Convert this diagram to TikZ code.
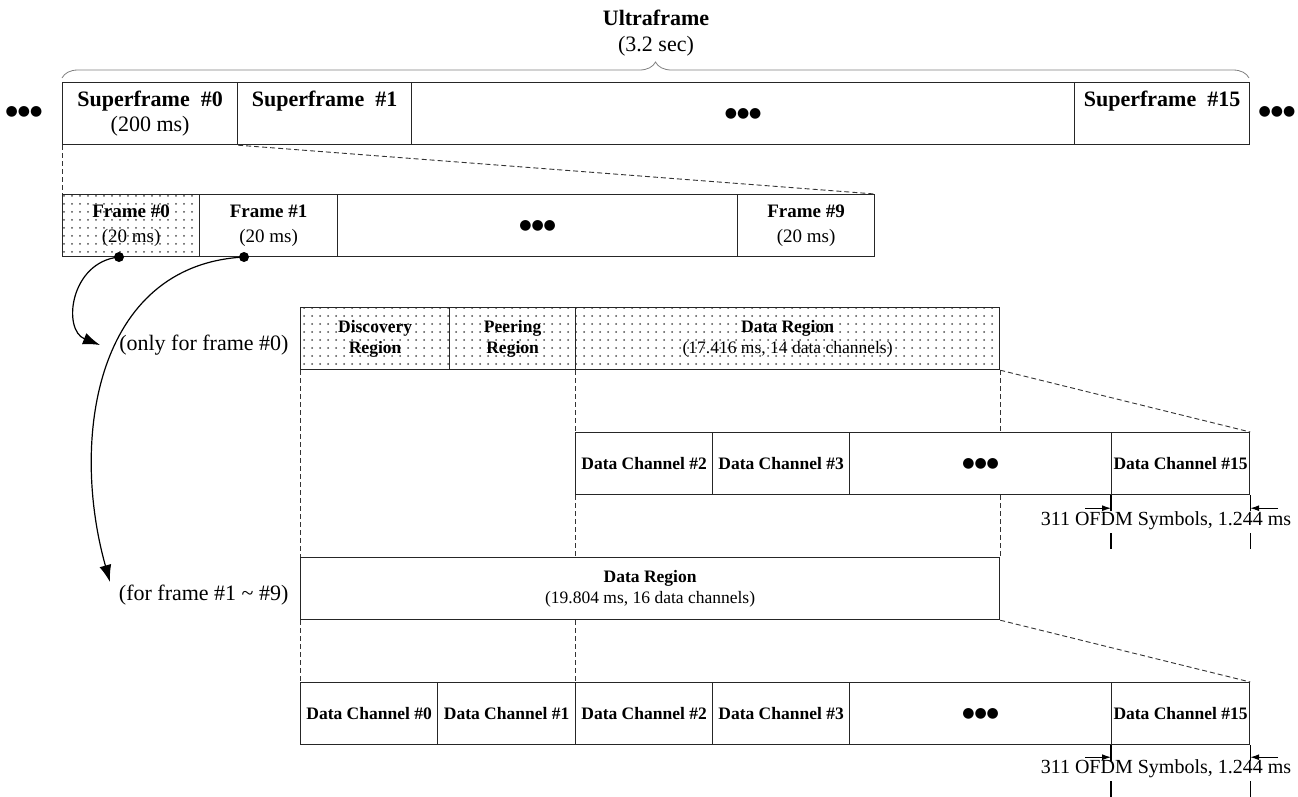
\documentclass[tikz,border=0pt]{standalone}
\usepackage{fontspec}
\setmainfont{Liberation Serif}
\newfontfamily\symfont{DejaVu Sans}
\usetikzlibrary{patterns.meta, decorations.pathreplacing, arrows.meta, calc}

\newcommand{\bigdots}{{\symfont\fontsize{14}{14}\selectfont ●●●}}
\newcommand{\fbig}{\fontsize{22}{25}\selectfont}
\newcommand{\fmid}{\fontsize{19}{25}\selectfont}
\newcommand{\fsmall}{\fontsize{17.5}{21}\selectfont}
\newcommand{\fnote}{\fontsize{20}{24}\selectfont}

\tikzset{
  cell/.style={draw=black!85, line width=1.2pt, inner sep=0pt, anchor=north west, minimum height=62pt, align=center},
  dotcell/.style={cell, pattern={Dots[distance=8pt, radius=1pt]}, pattern color=black!70},
  zoomline/.style={draw=black!80, line width=0.9pt, dash pattern=on 5pt off 3pt},
  spanarrow/.style={-{Latex[length=9pt,width=6pt]}, line width=1pt},
  tickline/.style={line width=1.4pt},
  pickarrow/.style={-{Latex[length=17pt,width=12pt]}, line width=1.2pt},
  pickdot/.style={circle, fill, inner sep=0pt, minimum size=10pt},
}

\begin{document}
\begin{tikzpicture}[x=1pt, y=-1pt]
    \useasboundingbox (0,0) rectangle (1298,796);

    % Ultraframe
    \node[font=\fbig] (uf) at (656,18) {\textbf{Ultraframe}};
    \node[font=\fbig] (ufdur) at (656,46) {(3.2 sec)};
    \draw[decorate, decoration={brace, amplitude=16pt}, draw=black!50, line width=0.8pt] (62,78) -- (1249,78);

    % Superframes
    \node[cell, minimum width=175pt, font=\fbig] (sf0) at (62,82) {\textbf{Superframe\ \ \#0}\\(200 ms)};
    \node[cell, minimum width=174pt, font=\fbig] (sf1) at (237,82) {\textbf{Superframe\ \ \#1}\\\phantom{(200 ms)}};
    \node[cell, minimum width=663pt] (sfdots) at (411,82) {\bigdots};
    \node[cell, minimum width=175pt, font=\fbig] (sf15) at (1074,82) {\textbf{Superframe\ \ \#15}\\\phantom{(200 ms)}};
    \node (ldots) at (24,112) {\bigdots};
    \node (rdots) at (1277,112) {\bigdots};

    % Frames
    \node[dotcell, minimum width=137pt, font=\fmid] (fr0) at (62,194) {\textbf{Frame \#0}\\(20 ms)};
    \node[cell, minimum width=138pt, font=\fmid] (fr1) at (199,194) {\textbf{Frame \#1}\\(20 ms)};
    \node[cell, minimum width=400pt] (frdots) at (337,194) {\bigdots};
    \node[cell, minimum width=137pt, font=\fmid] (fr9) at (737,194) {\textbf{Frame \#9}\\(20 ms)};

    \draw[zoomline] (sf0.south west) -- (fr0.north west);
    \draw[zoomline] (sf0.south east) -- (fr9.north east);

    % Frame selection
    \node[pickdot] (pick0) at (119,257) {};
    \node[pickdot] (pick1) at (244,257) {};
    \coordinate (tip0) at (100,345);
    \coordinate (tip1) at (110,582);
    \draw[pickarrow] (pick0.center) .. controls (70,262) and (62,330) .. (tip0);
    \draw[pickarrow] (pick1.center) .. controls (95,265) and (70,440) .. (tip1);

    % Frame #0 layout
    \node[font=\fbig, anchor=east] (only0) at (292,345) {(only for frame \#0)};
    \node[dotcell, minimum width=149pt, font=\fsmall] (disc) at (300,307) {\textbf{Discovery}\\\textbf{Region}};
    \node[dotcell, minimum width=126pt, font=\fsmall] (peer) at (449,307) {\textbf{Peering}\\\textbf{Region}};
    \node[dotcell, minimum width=424pt, font=\fsmall] (dr0) at (575,307) {\textbf{Data Region}\\(17.416 ms, 14 data channels)};

    \node[cell, minimum width=137pt, font=\fsmall] (ua2) at (575,432) {\textbf{Data Channel \#2}};
    \node[cell, minimum width=137pt, font=\fsmall] (ua3) at (712,432) {\textbf{Data Channel \#3}};
    \node[cell, minimum width=262pt] (uadots) at (849,432) {\bigdots};
    \node[cell, minimum width=138pt, font=\fsmall] (ua15) at (1111,432) {\textbf{Data Channel \#15}};

    \draw[zoomline] (dr0.south west) -- (ua2.north west);
    \draw[zoomline] (ua2.south west) -- (ua2.south west |- 0,557);
    \draw[zoomline] (dr0.south east) -- (dr0.south east |- ua2.north);
    \draw[zoomline] (dr0.south east |- ua2.south) -- (dr0.south east |- 0,557);
    \draw[zoomline] (dr0.south east) -- (ua15.north east);

    % symbol span, upper
    \draw[tickline] (ua15.south west) -- ++(0,16) ++(0,22) -- ++(0,16);
    \draw[tickline] (ua15.south east) -- ++(0,16) ++(0,22) -- ++(0,16);
    \draw[spanarrow] ([xshift=-26pt,yshift=-13pt]ua15.south west) -- ([yshift=-13pt]ua15.south west);
    \draw[spanarrow] ([xshift=28pt,yshift=-13pt]ua15.south east) -- ([yshift=-13pt]ua15.south east);
    \node[font=\fnote] (symA) at (1166,521) {311 OFDM Symbols, 1.244 ms};

    % Frames #1 ~ #9 layout
    \node[font=\fbig, anchor=east] (only1) at (292,595) {(for frame \#1 \textasciitilde\ \#9)};
    \node[cell, minimum width=699pt, font=\fsmall] (dr1) at (300,557) {\textbf{Data Region}\\(19.804 ms, 16 data channels)};
    \draw[zoomline] (disc.south west) -- (dr1.north west);

    \node[cell, minimum width=137pt, font=\fsmall] (ub0) at (300,682) {\textbf{Data Channel \#0}};
    \node[cell, minimum width=138pt, font=\fsmall] (ub1) at (437,682) {\textbf{Data Channel \#1}};
    \node[cell, minimum width=137pt, font=\fsmall] (ub2) at (575,682) {\textbf{Data Channel \#2}};
    \node[cell, minimum width=137pt, font=\fsmall] (ub3) at (712,682) {\textbf{Data Channel \#3}};
    \node[cell, minimum width=262pt] (ubdots) at (849,682) {\bigdots};
    \node[cell, minimum width=138pt, font=\fsmall] (ub15) at (1111,682) {\textbf{Data Channel \#15}};

    \draw[zoomline] (dr1.south west) -- (ub0.north west);
    \draw[zoomline] (dr1.south -| ub2.north west) -- (ub2.north west);
    \draw[zoomline] (dr1.south east) -- (ub15.north east);

    % symbol span, lower
    \draw[tickline] (ub15.south west) -- ++(0,16) ++(0,20) -- ++(0,18);
    \draw[tickline] (ub15.south east) -- ++(0,16) ++(0,20) -- ++(0,18);
    \draw[spanarrow] ([xshift=-26pt,yshift=-12pt]ub15.south west) -- ([yshift=-12pt]ub15.south west);
    \draw[spanarrow] ([xshift=28pt,yshift=-12pt]ub15.south east) -- ([yshift=-12pt]ub15.south east);
    \node[font=\fnote] (symB) at (1166,769) {311 OFDM Symbols, 1.244 ms};

\end{tikzpicture}
\end{document}
